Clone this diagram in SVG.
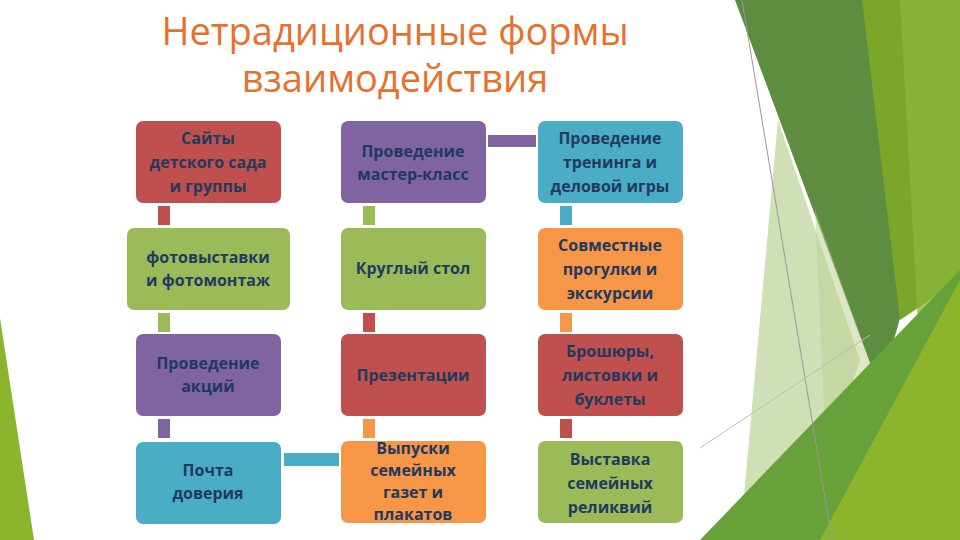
<svg xmlns="http://www.w3.org/2000/svg" width="960" height="540" viewBox="0 0 960 540">
<style>
.t{font-family:"Open Sans","Liberation Sans",sans-serif;font-weight:bold;font-size:16px;fill:#1f3a5f;text-anchor:middle}
.h{font-family:"Open Sans","Liberation Sans",sans-serif;font-size:38px;fill:#e8702a;text-anchor:middle}
.r{fill:#c0504d}.g{fill:#9bbb59}.p{fill:#8064a2}.b{fill:#4bacc6}.o{fill:#f79646}
</style>
<rect width="960" height="540" fill="#fff"/>
<g id="deco">
<polygon points="0,318 0,540 34,540" fill="#8ab52c"/>
<polygon points="735,0 865,0 905,300 880,390" fill="#5e8c40"/>
<polygon points="862,0 960,0 960,280 900,320" fill="#7aa62a"/>
<polygon points="900,0 960,0 960,540 930,540" fill="#8bb53a" opacity="0.8"/>
<polygon points="778,120 860,360 800,540 740,540" fill="#a9c47a" opacity="0.55"/>
<polygon points="815,210 880,390 830,540" fill="#bcd08f" opacity="0.5"/>
<polygon points="700,540 960,270 960,540" fill="#67a13a"/>
<polygon points="820,540 960,280 960,540" fill="#8cb52c"/>
<line x1="742" y1="0" x2="832" y2="540" stroke="#999" stroke-width="1"/>
<line x1="700" y1="448" x2="870" y2="335" stroke="#bbb" stroke-width="1"/>
</g>
<text class="h" x="395" y="45">Нетрадиционные формы</text>
<text class="h" x="395" y="92">взаимодействия</text>
<g id="connectors">
<rect class="r" x="158" y="206" width="12" height="19"/>
<rect class="g" x="158" y="313" width="12" height="19"/>
<rect class="p" x="158" y="419" width="12" height="19"/>
<rect class="b" x="284" y="453" width="55" height="13"/>
<rect class="g" x="363" y="206" width="12" height="19"/>
<rect class="r" x="363" y="313" width="12" height="19"/>
<rect class="o" x="363" y="419" width="12" height="19"/>
<rect class="p" x="488" y="135" width="48" height="12"/>
<rect class="b" x="560" y="206" width="12" height="19"/>
<rect class="o" x="560" y="313" width="12" height="19"/>
<rect class="r" x="560" y="419" width="12" height="19"/>
</g>
<g id="n1"><rect class="r" x="136" y="121" width="145" height="82" rx="7"/><text class="t" x="208" y="144">Сайты</text><text class="t" x="208" y="168">детского сада</text><text class="t" x="208" y="192">и группы</text></g>
<g id="n2"><rect class="g" x="127" y="228" width="163" height="82" rx="7"/><text class="t" x="208" y="263">фотовыставки</text><text class="t" x="208" y="286">и фотомонтаж</text></g>
<g id="n3"><rect class="p" x="136" y="334" width="145" height="82" rx="7"/><text class="t" x="208" y="369">Проведение</text><text class="t" x="208" y="392">акций</text></g>
<g id="n4"><rect class="b" x="136" y="442" width="145" height="82" rx="7"/><text class="t" x="208" y="476">Почта</text><text class="t" x="208" y="499">доверия</text></g>
<g id="n5"><rect class="p" x="341" y="121" width="145" height="82" rx="7"/><text class="t" x="413" y="157">Проведение</text><text class="t" x="413" y="180">мастер-класс</text></g>
<g id="n6"><rect class="g" x="341" y="228" width="145" height="82" rx="7"/><text class="t" x="413" y="274">Круглый стол</text></g>
<g id="n7"><rect class="r" x="341" y="334" width="145" height="82" rx="7"/><text class="t" x="413" y="381">Презентации</text></g>
<g id="n8"><rect class="o" x="341" y="441" width="145" height="82" rx="7"/><text class="t" x="413" y="454">Выпуски</text><text class="t" x="413" y="476">семейных</text><text class="t" x="413" y="498">газет и</text><text class="t" x="413" y="520">плакатов</text></g>
<g id="n9"><rect class="b" x="538" y="121" width="145" height="82" rx="7"/><text class="t" x="610" y="144">Проведение</text><text class="t" x="610" y="168">тренинга и</text><text class="t" x="610" y="192">деловой игры</text></g>
<g id="n10"><rect class="o" x="538" y="228" width="145" height="82" rx="7"/><text class="t" x="610" y="251">Совместные</text><text class="t" x="610" y="275">прогулки и</text><text class="t" x="610" y="299">экскурсии</text></g>
<g id="n11"><rect class="r" x="538" y="334" width="145" height="82" rx="7"/><text class="t" x="610" y="357">Брошюры,</text><text class="t" x="610" y="381">листовки и</text><text class="t" x="610" y="405">буклеты</text></g>
<g id="n12"><rect class="g" x="538" y="441" width="145" height="82" rx="7"/><text class="t" x="610" y="465">Выставка</text><text class="t" x="610" y="489">семейных</text><text class="t" x="610" y="513">реликвий</text></g>
</svg>
